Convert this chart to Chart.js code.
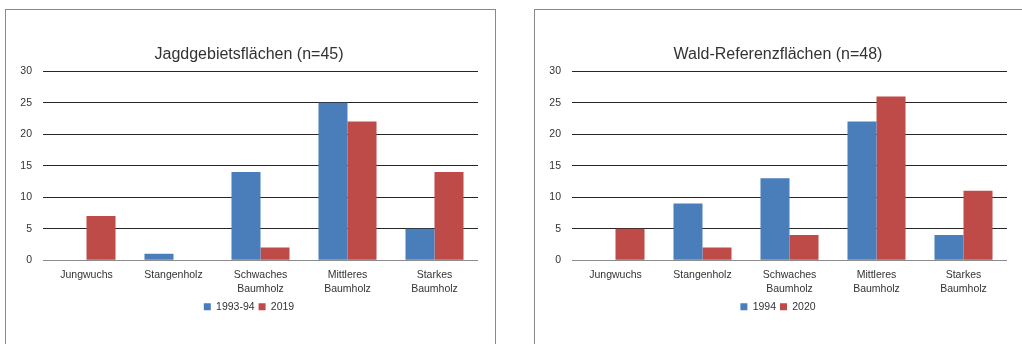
<!DOCTYPE html>
<html>
<head>
<meta charset="utf-8">
<script src="https://cdn.jsdelivr.net/npm/chart.js@4"></script>
<style>
  body { margin: 0; background: #fff; overflow: hidden; }
  .box { position: absolute; top: 9px; width: 489px; height: 340px; border: 1px solid #8a8a8a; background: #fff; }
  #boxA { left: 5px; }
  #boxB { left: 534px; }
</style>
</head>
<body>
<div class="box" id="boxA"><canvas id="chartA" width="489" height="335"></canvas></div>
<div class="box" id="boxB"><canvas id="chartB" width="489" height="335"></canvas></div>
<script>
const categories = ["Jungwuchs", "Stangenholz", ["Schwaches", "Baumholz"], ["Mittleres", "Baumholz"], ["Starkes", "Baumholz"]];
const yTicks = [0, 5, 10, 15, 20, 25, 30];

const jagdTitle = "Jagdgebietsflächen (n=45)";
const jagdOld = [0, 1, 14, 25, 5];
const jagdNew = [7, 0, 2, 22, 14];
const jagdLabels = ["1993-94", "2019"];

const waldTitle = "Wald-Referenzflächen (n=48)";
const waldOld = [0, 9, 13, 22, 4];
const waldNew = [5, 2, 4, 26, 11];
const waldLabels = ["1994", "2020"];

const blue = "#4a7ebb";
const red = "#be4b48";
const fontFamily = "'Liberation Sans', Arial, sans-serif";

function makeChart(id, title, oldVals, newVals, names) {
    return new Chart(document.getElementById(id).getContext("2d"), {
        type: "bar",
        data: {
            labels: categories,
            datasets: [
                { label: names[0], data: oldVals, backgroundColor: blue, categoryPercentage: 0.667, barPercentage: 1 },
                { label: names[1], data: newVals, backgroundColor: red, categoryPercentage: 0.667, barPercentage: 1 }
            ]
        },
        options: {
            responsive: false,
            animation: false,
            layout: { padding: { left: 14, right: 17, top: 22, bottom: 23 } },
            scales: {
                x: {
                    grid: { display: false, drawTicks: false },
                    border: { display: false },
                    afterFit: (axis) => { axis.height -= 7; },
                    ticks: { color: "#333", padding: 8, maxRotation: 0, autoSkip: false, font: { family: fontFamily, size: 10.5, lineHeight: 1.35 } }
                },
                y: {
                    min: 0,
                    max: 30,
                    afterBuildTicks: (axis) => { axis.ticks = yTicks.map(v => ({ value: v })); },
                    afterFit: (axis) => { axis.width = 23; },
                    border: { display: false },
                    grid: {
                        drawTicks: false,
                        color: (ctx) => ctx.tick && ctx.tick.value === 0 ? "#8c8c8c" : "#262626",
                        lineWidth: 1
                    },
                    ticks: { color: "#333", padding: 11, font: { family: fontFamily, size: 10.5 } }
                }
            },
            plugins: {
                title: {
                    display: true,
                    text: title,
                    color: "#333",
                    font: { family: fontFamily, size: 16, weight: "normal" },
                    padding: { top: 13, bottom: 7 }
                },
                legend: {
                    position: "bottom",
                    labels: { color: "#333", boxWidth: 7, boxHeight: 7, padding: 4, font: { family: fontFamily, size: 10.5 } }
                },
                tooltip: { enabled: false }
            }
        }
    });
}

makeChart("chartA", jagdTitle, jagdOld, jagdNew, jagdLabels);
makeChart("chartB", waldTitle, waldOld, waldNew, waldLabels);
</script>
</body>
</html>
